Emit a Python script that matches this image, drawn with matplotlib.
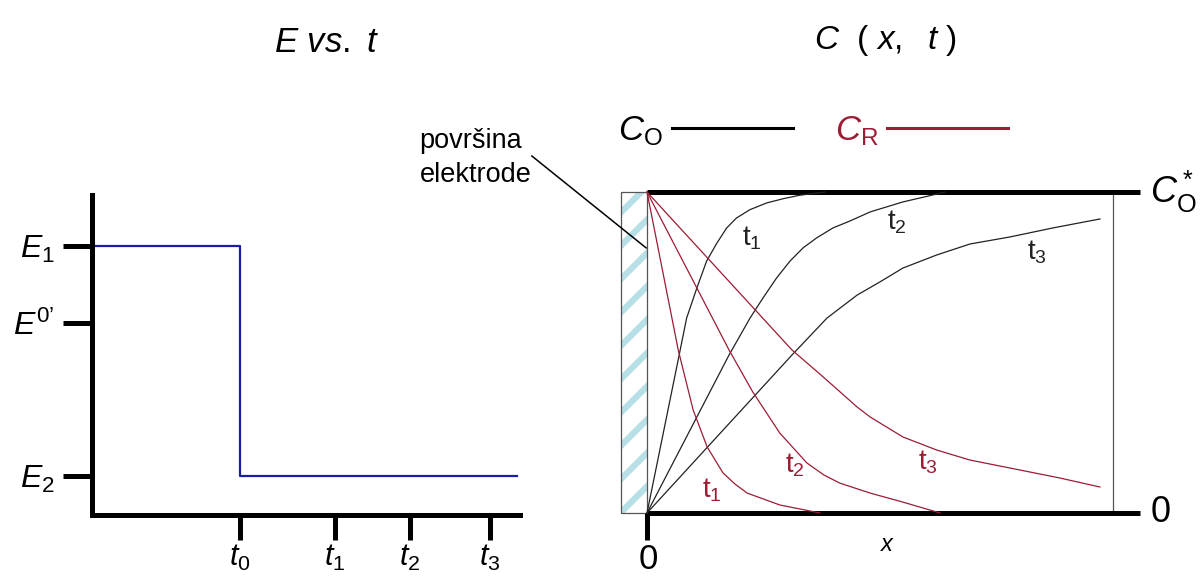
import numpy as np
import matplotlib
matplotlib.use('Agg')
import matplotlib.pyplot as plt
from matplotlib.patches import Rectangle
from matplotlib.lines import Line2D

plt.rcParams['font.family'] = ['Liberation Sans', 'DejaVu Sans']
plt.rcParams['mathtext.fontset'] = 'custom'
plt.rcParams['mathtext.rm'] = 'Liberation Sans'
plt.rcParams['mathtext.it'] = 'Liberation Sans:italic'
plt.rcParams['mathtext.bf'] = 'Liberation Sans:bold'
plt.rcParams['hatch.linewidth'] = 4.5

# E vs t (potential step)
t_step = [-1.48, 0.0, 0.0, 2.77]
e_step = [1.0, 1.0, 0.0, 0.0]
e_ticks = [1.0, 0.665, 0.0]
e_labels = [r'$E_1$', '$E^{0\u2019}$', r'$E_2$']
t_ticks = [0.0, 0.95, 1.70, 2.50]
t_labels = [r'$t_0$', r'$t_1$', r'$t_2$', r'$t_3$']

# C_O(x,t) profiles (x: 0..1, C/C*: 0..1)
ox_t1 = [0, 0.069, 0.085, 0.107, 0.128, 0.150, 0.171, 0.192, 0.221, 0.257, 0.292, 0.328, 0.356, 0.382]
oy_t1 = [0, 0.492, 0.607, 0.701, 0.785, 0.841, 0.888, 0.919, 0.945, 0.966, 0.979, 0.990, 0.995, 1.0]
ox_t2 = [0, 0.176, 0.221, 0.249, 0.278, 0.307, 0.335, 0.364, 0.399, 0.436, 0.479, 0.549, 0.614, 0.639]
oy_t2 = [0, 0.492, 0.607, 0.670, 0.732, 0.785, 0.826, 0.857, 0.888, 0.910, 0.938, 0.969, 0.991, 1.0]
ox_t3 = [0, 0.311, 0.386, 0.451, 0.500, 0.549, 0.622, 0.693, 0.779, 0.871, 0.972]
oy_t3 = [0, 0.492, 0.607, 0.679, 0.720, 0.763, 0.804, 0.838, 0.860, 0.888, 0.916]

# C_R(x,t) profiles
rx_t1 = [0, 0.067, 0.099, 0.129, 0.163, 0.189, 0.215, 0.285, 0.371]
ry_t1 = [1, 0.508, 0.321, 0.206, 0.125, 0.090, 0.062, 0.025, 0.0]
rx_t2 = [0, 0.176, 0.227, 0.285, 0.343, 0.380, 0.414, 0.479, 0.549, 0.629]
ry_t2 = [1, 0.508, 0.377, 0.249, 0.156, 0.118, 0.093, 0.062, 0.034, 0.0]
rx_t3 = [0, 0.311, 0.378, 0.451, 0.479, 0.549, 0.622, 0.693, 0.800, 0.886, 0.972]
ry_t3 = [1, 0.508, 0.424, 0.330, 0.299, 0.237, 0.196, 0.165, 0.134, 0.109, 0.081]

blue = '#1c1ca6'
red = '#9c1c35'

fig = plt.figure(figsize=(12, 5.78), dpi=100)

# ---- left panel: E vs t
ax1 = fig.add_axes([92/1200, 63/578, 428/1200, 320/578])
ax1.plot(t_step, e_step, color=blue, lw=1.6, clip_on=False)
ax1.set_xlim(-1.48, 2.80)
ax1.set_ylim(-0.17, 1.222)
for s in ['top', 'right']:
    ax1.spines[s].set_visible(False)
for s in ['left', 'bottom']:
    ax1.spines[s].set_linewidth(3.6)
ax1.set_yticks(e_ticks)
ax1.set_yticklabels(e_labels, fontsize=23)
ax1.set_xticks(t_ticks)
ax1.set_xticklabels(t_labels, fontsize=22)
ax1.tick_params(axis='y', length=21, width=3.6, pad=6)
ax1.tick_params(axis='x', length=18, width=3.6, pad=2)
fig.text(327/1200, 1 - 43/578, r'$E\ vs.\ t$', fontsize=25, ha='center', va='center')

# ---- right panel: C(x,t)
ax2 = fig.add_axes([647/1200, 65/578, 466/1200, 321/578])
ax2.set_xlim(0, 1)
ax2.set_ylim(0, 1)
ax2.axis('off')

# electrode surface
ax2.add_patch(Rectangle((-0.056, 0), 0.056, 1, facecolor='white', edgecolor='#b6dfe6',
                        hatch='/', lw=0, clip_on=False))
ax2.add_patch(Rectangle((-0.056, 0), 0.056, 1, fill=False, edgecolor='#555555',
                        lw=0.9, clip_on=False))

ax2.plot([1, 1], [0, 1], color='#555555', lw=0.9, clip_on=False)
ax2.plot([0, 1.058], [1, 1], color='black', lw=3.6, clip_on=False, solid_capstyle='butt')
ax2.plot([0, 1.058], [0, 0], color='black', lw=3.6, clip_on=False, solid_capstyle='butt')
ax2.plot([0, 0], [0, -0.084], color='black', lw=3.6, clip_on=False, solid_capstyle='butt')

for xs, ys in [(ox_t1, oy_t1), (ox_t2, oy_t2), (ox_t3, oy_t3)]:
    ax2.plot(xs, ys, color='#222222', lw=0.9, clip_on=False)
for xs, ys in [(rx_t1, ry_t1), (rx_t2, ry_t2), (rx_t3, ry_t3)]:
    ax2.plot(xs, ys, color=red, lw=0.9, clip_on=False)

# curve labels
lab_fs = 20
ax2.text(0.225, 0.857, r'$\mathrm{t}_1$', fontsize=lab_fs, ha='center', va='center', color='#222222')
ax2.text(0.536, 0.907, r'$\mathrm{t}_2$', fontsize=lab_fs, ha='center', va='center', color='#222222')
ax2.text(0.837, 0.813, r'$\mathrm{t}_3$', fontsize=lab_fs, ha='center', va='center', color='#222222')
ax2.text(0.139, 0.072, r'$\mathrm{t}_1$', fontsize=lab_fs, ha='center', va='center', color=red)
ax2.text(0.318, 0.150, r'$\mathrm{t}_2$', fontsize=lab_fs, ha='center', va='center', color=red)
ax2.text(0.603, 0.159, r'$\mathrm{t}_3$', fontsize=lab_fs, ha='center', va='center', color=red)

# axis annotations
ax2.text(0.003, -0.145, '0', fontsize=25, ha='center', va='center')
ax2.text(1.103, 0.0, '0', fontsize=26, ha='center', va='center')
ax2.text(0.517, -0.1, r'$x$', fontsize=17, ha='center', va='center')
ax2.text(1.13, 1.0, r'$C^*_\mathrm{O}$', fontsize=26, ha='center', va='center')

# electrode label with leader
ax2.plot([-0.247, -0.002], [1.112, 0.826], color='black', lw=1.1, clip_on=False)
ax2.text(-0.488, 1.105, 'površina\nelektrode', fontsize=19.5, ha='left', va='center',
         linespacing=1.38)

# legend
handles = [Line2D([], [], color='black', lw=2.2), Line2D([], [], color=red, lw=2.2)]
leg = ax2.legend(handles, [r'$C_\mathrm{O}$', r'$C_\mathrm{R}$'], ncol=2, markerfirst=False,
                 frameon=False, fontsize=25, handlelength=3.5, handletextpad=0.25,
                 columnspacing=1.2, loc='center left', bbox_to_anchor=(-0.062, 1.19),
                 borderaxespad=0, borderpad=0)
leg.get_texts()[1].set_color(red)

fig.text(885/1200, 1 - 40/578, r'$C\ \ (\ x,\ \ t\ )$', fontsize=24, ha='center', va='center')

fig.savefig('out.png', dpi=100)
